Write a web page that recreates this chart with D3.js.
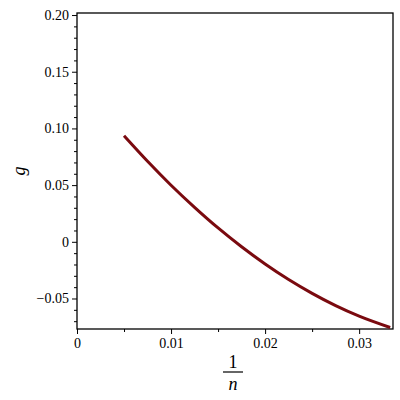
<!DOCTYPE html>
<html>
<head>
<meta charset="utf-8">
<script src="https://cdn.jsdelivr.net/npm/d3@7"></script>
<style>
  body { margin: 0; background: #fff; }
  svg { display: block; }
</style>
</head>
<body>
<div id="chart"></div>
<script>
// 1/n values and g values
const invN = [0.005, 0.0075, 0.01, 0.0125, 0.015, 0.0175, 0.02, 0.0225, 0.025, 0.0275, 0.03, 0.0333];
const gVals = [0.0935, 0.0710, 0.0499, 0.0304, 0.0122, -0.0044, -0.0196, -0.0333, -0.0455, -0.0563, -0.0656, -0.0756];

const xTicks = [0, 0.01, 0.02, 0.03];
const xTickLabels = ['0', '0.01', '0.02', '0.03'];
const xMinor = [0.005, 0.015, 0.025];
const yTicks = [-0.05, 0, 0.05, 0.10, 0.15, 0.20];
const yTickLabels = ['\u22120.05', '0', '0.05', '0.10', '0.15', '0.20'];
const yMinor = [-0.07, -0.06, -0.04, -0.03, -0.02, -0.01, 0.01, 0.02, 0.03, 0.04,
                0.06, 0.07, 0.08, 0.09, 0.11, 0.12, 0.13, 0.14, 0.16, 0.17, 0.18, 0.19];

const serif = '"Liberation Serif", "Times New Roman", "DejaVu Serif", serif';
const width = 400, height = 400;
const plot = { left: 77, right: 393, top: 13, bottom: 329 };

const x = d3.scaleLinear().domain([0, 0.0336]).range([plot.left, plot.right]);
const y = d3.scaleLinear().domain([-0.0769, 0.2018]).range([plot.bottom, plot.top]);

const svg = d3.select('#chart').append('svg')
  .attr('width', width)
  .attr('height', height);

function styleAxis(g) {
  g.select('.domain').remove();
  g.attr('font-family', serif).attr('font-size', 14);
  g.selectAll('.tick text').style('font-family', serif).style('font-size', '14px').attr('fill', '#000');
}

// minor ticks
svg.append('g')
  .attr('transform', `translate(0,${plot.bottom})`)
  .call(d3.axisBottom(x).tickValues(xMinor).tickSize(3).tickFormat('').tickSizeOuter(0))
  .call(styleAxis);

svg.append('g')
  .attr('transform', `translate(${plot.left},0)`)
  .call(d3.axisLeft(y).tickValues(yMinor).tickSize(3).tickFormat('').tickSizeOuter(0))
  .call(styleAxis);

// major ticks
svg.append('g')
  .attr('transform', `translate(0,${plot.bottom})`)
  .call(d3.axisBottom(x).tickValues(xTicks).tickSize(5).tickPadding(4)
    .tickFormat((d, i) => xTickLabels[i]).tickSizeOuter(0))
  .call(styleAxis);

svg.append('g')
  .attr('transform', `translate(${plot.left},0)`)
  .call(d3.axisLeft(y).tickValues(yTicks).tickSize(5).tickPadding(3)
    .tickFormat((d, i) => yTickLabels[i]).tickSizeOuter(0))
  .call(styleAxis);

// frame
svg.append('rect')
  .attr('x', plot.left)
  .attr('y', plot.top)
  .attr('width', plot.right - plot.left)
  .attr('height', plot.bottom - plot.top)
  .attr('fill', 'none')
  .attr('stroke', '#000')
  .attr('stroke-width', 1.3);

// curve
svg.append('path')
  .datum(invN.map((v, i) => [v, gVals[i]]))
  .attr('fill', 'none')
  .attr('stroke', '#7a0a0f')
  .attr('stroke-width', 3)
  .attr('d', d3.line()
    .x(d => x(d[0]))
    .y(d => y(d[1]))
    .curve(d3.curveMonotoneX));

// y label
svg.append('text')
  .attr('transform', 'translate(25,171) rotate(-90)')
  .attr('text-anchor', 'middle')
  .style('font-family', serif)
  .attr('font-style', 'italic')
  .attr('font-size', 18)
  .text('g');

// x label as fraction 1/n
const cx = (plot.left + plot.right) / 2 - 2;
svg.append('text')
  .attr('x', cx)
  .attr('y', 368)
  .attr('text-anchor', 'middle')
  .style('font-family', serif)
  .attr('font-size', 18)
  .text('1');
svg.append('line')
  .attr('x1', cx - 10).attr('x2', cx + 10)
  .attr('y1', 372).attr('y2', 372)
  .attr('stroke', '#000')
  .attr('stroke-width', 1.2);
svg.append('text')
  .attr('x', cx)
  .attr('y', 390)
  .attr('text-anchor', 'middle')
  .style('font-family', serif)
  .attr('font-style', 'italic')
  .attr('font-size', 18)
  .text('n');
</script>
</body>
</html>
